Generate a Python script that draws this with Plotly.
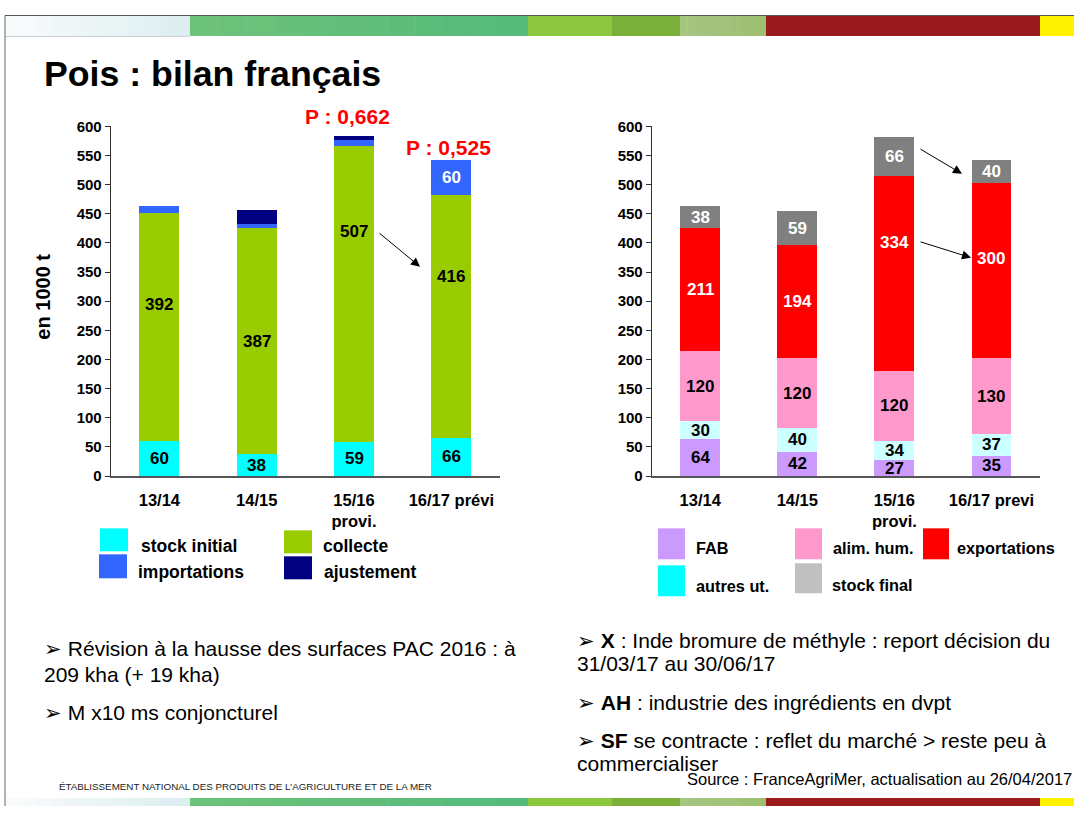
import plotly.graph_objects as go

W, H = 1074, 814

# Campagnes (tick labels)
campagnes_g = ["13/14", "14/15", "15/16<br>provi.", "16/17 prévi"]
campagnes_d = ["13/14", "14/15", "15/16<br>provi.", "16/17 previ"]

# Ressources (1000 t)
stock_initial = [60, 38, 59, 66]
collecte = [392, 387, 507, 416]
importations = [12, 7, 10, 60]
ajustement = [0, 24, 8, 0]

# Emplois (1000 t)
fab = [64, 42, 27, 35]
autres_ut = [30, 40, 34, 37]
alim_hum = [120, 120, 120, 130]
exportations = [211, 194, 334, 300]
stock_final = [38, 59, 66, 40]

# Prix affichés au-dessus des barres
prix_cat = [campagnes_g[2], campagnes_g[3]]
prix_txt = ["P : 0,662", "P : 0,525"]

FONT = "Liberation Sans, Arial, sans-serif"

# page layout: vertical offset / scale of the slide inside the figure
Y_OFF, Y_SCALE = 8.0, 798.0 / 814.0


def px(x):
    return x / W


def py(y):
    return 1 - ((y - Y_OFF) / Y_SCALE) / H


fig = go.Figure()

# ---- graphique de gauche : ressources
res_series = [
    ("stock initial", stock_initial, "#00FFFF"),
    ("collecte", collecte, "#99CC00"),
    ("importations", importations, "#3366FF"),
    ("ajustement", ajustement, "#000080"),
]
for name, vals, col in res_series:
    fig.add_trace(go.Bar(x=campagnes_g, y=vals, name=name, marker_color=col,
                         marker_line_width=0, xaxis="x", yaxis="y",
                         showlegend=False, hoverinfo="skip"))

# ---- graphique de droite : emplois
emp_series = [
    ("FAB", fab, "#CC99FF"),
    ("autres ut.", autres_ut, "#CCFFFF"),
    ("alim. hum.", alim_hum, "#FF99CC"),
    ("exportations", exportations, "#FF0000"),
    ("stock final", stock_final, "#808080"),
]
for name, vals, col in emp_series:
    fig.add_trace(go.Bar(x=campagnes_d, y=vals, name=name, marker_color=col,
                         marker_line_width=0, xaxis="x2", yaxis="y2",
                         showlegend=False, hoverinfo="skip"))

annotations = []
shapes = []


def note(x, y, text, size, color="black", xanchor="left", **kw):
    annotations.append(dict(x=px(x), y=py(y), xref="paper", yref="paper",
                            xanchor=xanchor, yanchor="middle", showarrow=False,
                            text=text, font=dict(family=kw.pop("family", FONT),
                                                 size=size, color=color), **kw))


def seg_labels(cats, series, xref, yref, colors, label_pos=None, min_val=25):
    """Value labels centred in each stacked segment (or at a given height)."""
    base = [0] * len(cats)
    for i, (name, vals, _c) in enumerate(series):
        for j, v in enumerate(vals):
            mid = base[j] + v / 2
            if label_pos and name in label_pos and label_pos[name][j] is not None:
                mid = label_pos[name][j]
            if v >= min_val:
                annotations.append(dict(
                    x=cats[j], y=mid, xref=xref, yref=yref, text=f"<b>{v}</b>",
                    showarrow=False, xanchor="center", yanchor="middle",
                    font=dict(family=FONT, size=17, color=colors[i])))
            base[j] += v


# hauteurs de libellé choisies à la main pour certaines barres
seg_labels(campagnes_g, res_series, "x", "y",
           ["black", "black", "white", "white"],
           label_pos={"collecte": [294, None, 420, 342]})
seg_labels(campagnes_d, emp_series, "x2", "y2",
           ["black", "black", "black", "white", "white"],
           label_pos={"exportations": [None, None, 400, 374]})

for c, t, yy, dx in zip(prix_cat, prix_txt, [116, 147], [-7, -3]):
    annotations.append(dict(x=c, y=py(yy), xref="x", yref="paper", text=f"<b>{t}</b>",
                            showarrow=False, xshift=dx, xanchor="center", yanchor="middle",
                            font=dict(family=FONT, size=21, color="#FF0000")))

# flèches
for (x0, y0, x1, y1) in [(378, 232, 420, 266), (919, 148, 962, 173), (919, 241, 971, 257)]:
    annotations.append(dict(x=px(x1), y=py(y1), xref="paper", yref="paper",
                            ax=x0 - x1, ay=(y0 - y1) / Y_SCALE, axref="pixel", ayref="pixel",
                            text="", showarrow=True, arrowhead=2, arrowsize=1.8,
                            arrowwidth=1, arrowcolor="black"))

# titre
note(42, 73, "<b>Pois : bilan français</b>", 35.7)

# titre de l'axe vertical
annotations.append(dict(x=px(43), y=py(296), xref="paper", yref="paper",
                        xanchor="center", yanchor="middle",
                        textangle=-90, showarrow=False, text="<b>en 1000 t</b>",
                        font=dict(family=FONT, size=20, color="black")))

# légendes
legend_items = [
    (100, 528, 128, 551, "#00FFFF", "stock initial", 139, 546, 17.5),
    (99, 554, 127, 578, "#3366FF", "importations", 136, 572, 17.5),
    (284, 530, 312, 553, "#99CC00", "collecte", 321, 546, 17.5),
    (284, 556, 312, 579, "#000080", "ajustement", 322, 572, 17.5),
    (658, 528, 685, 559, "#CC99FF", "FAB", 694, 548, 16.3),
    (795, 528, 822, 559, "#FF99CC", "alim. hum.", 831, 548, 16.3),
    (923, 528, 949, 559, "#FF0000", "exportations", 955, 548, 16.3),
    (658, 565, 685, 596, "#00FFFF", "autres ut.", 694, 586, 16.3),
    (795, 563, 822, 593, "#C0C0C0", "stock final", 830, 585, 16.3),
]
for x0, y0, x1, y1, col, txt, tx, ty, fs in legend_items:
    shapes.append(dict(type="rect", xref="paper", yref="paper",
                       x0=px(x0), x1=px(x1), y0=py(y1), y1=py(y0),
                       fillcolor=col, line=dict(width=0)))
    note(tx, ty, f"<b>{txt}</b>", fs)

# commentaires
bullets = [
    (42, 648, "➢ Révision à la hausse des surfaces PAC 2016 : à"),
    (42, 674, "209 kha (+ 19 kha)"),
    (42, 712, "➢ M x10 ms conjoncturel"),
    (575, 640, "➢ <b>X</b> : Inde bromure de méthyle : report décision du"),
    (575, 663, "31/03/17 au 30/06/17"),
    (575, 702, "➢ <b>AH</b> : industrie des ingrédients en dvpt"),
    (575, 740, "➢ <b>SF</b> se contracte : reflet du marché &gt; reste peu à"),
    (575, 763, "commercialiser"),
]
for x, y, t in bullets:
    note(x, y, t, 21)

note(1074, 779, "Source : FranceAgriMer, actualisation au 26/04/2017", 16.5, xanchor="right")
note(57, 786, "ÉTABLISSEMENT NATIONAL DES PRODUITS DE L’AGRICULTURE ET DE LA MER", 9.8,
     color="#222222", family="Liberation Sans Narrow, " + FONT)


# bandeaux de couleur en haut et en bas de la page
def hex2rgb(h):
    h = h.lstrip("#")
    return tuple(int(h[i:i + 2], 16) for i in (0, 2, 4))


def band(y0, y1):
    segs = [
        (5, 190, "#F8FBFC", "#DDEEF0"),
        (190, 528, "#6DC27A", "#55BA7A"),
        (528, 612, "#8DC63F", "#8DC63F"),
        (612, 680, "#7AB03A", "#7AB03A"),
        (680, 766, "#A6C581", "#9CBF72"),
        (766, 1040, "#991B1E", "#991B1E"),
        (1040, 1074, "#FFF200", "#FFF200"),
    ]
    for a, b, c0, c1 in segs:
        n = 12 if c0 != c1 else 1
        r0, r1 = hex2rgb(c0), hex2rgb(c1)
        for k in range(n):
            f = k / max(n - 1, 1)
            col = "rgb({},{},{})".format(*[round(r0[i] + (r1[i] - r0[i]) * f) for i in range(3)])
            xa = a + (b - a) * k / n
            xb = a + (b - a) * (k + 1) / n
            shapes.append(dict(type="rect", xref="paper", yref="paper",
                               x0=px(xa), x1=px(xb + 0.5), y0=max(py(y1), 0), y1=py(y0),
                               fillcolor=col, line=dict(width=0), layer="below"))


band(15, 35)
band(798, 814)
shapes.append(dict(type="line", xref="paper", yref="paper", x0=px(5), x1=1,
                   y0=py(14.5), y1=py(14.5), line=dict(color="#555555", width=1.2)))
shapes.append(dict(type="line", xref="paper", yref="paper", x0=px(5), x1=px(190),
                   y0=py(35.5), y1=py(35.5), line=dict(color="#C9D4DC", width=1)))
shapes.append(dict(type="line", xref="paper", yref="paper", x0=px(5), x1=px(5),
                   y0=py(14.5), y1=0, line=dict(color="#666666", width=1)))

ydom = [py(475.7), py(125.5)]
axis_font = dict(family=FONT, size=15, color="black", weight="bold")
xcommon = dict(showgrid=False, showline=True, linecolor="#555555", linewidth=2,
               ticks="", tickfont=dict(family=FONT, size=16.5, color="black", weight="bold"),
               ticklabelstandoff=8, fixedrange=True)
ycommon = dict(range=[0, 600], dtick=50, showgrid=False, zeroline=False,
               showline=True, linecolor="#333333", linewidth=1, ticks="outside",
               ticklen=5, tickcolor="#333333", tickfont=axis_font, fixedrange=True)

fig.update_layout(
    width=W, height=H,
    margin=dict(l=0, r=0, t=0, b=0),
    paper_bgcolor="white", plot_bgcolor="white",
    barmode="stack", bargap=0.59,
    xaxis=dict(domain=[px(110.7), px(500)], anchor="y", **xcommon),
    yaxis=dict(domain=ydom, anchor="x", **ycommon),
    xaxis2=dict(domain=[px(651.7), px(1040)], anchor="y2", **xcommon),
    yaxis2=dict(domain=ydom, anchor="x2", **ycommon),
    annotations=annotations,
    shapes=shapes,
    font=dict(family=FONT),
)

fig.write_html("out.html")
